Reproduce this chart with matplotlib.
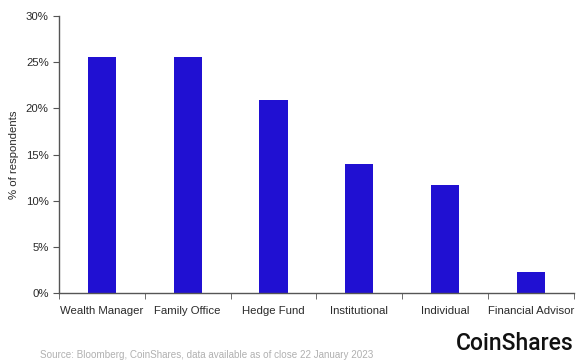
import numpy as np
import matplotlib.pyplot as plt

categories = ['Wealth Manager', 'Family Office', 'Hedge Fund',
              'Institutional', 'Individual', 'Financial Advisor']
share = [25.6, 25.6, 20.9, 14.0, 11.7, 2.3]

plt.rcParams['font.family'] = ['Liberation Sans', 'DejaVu Sans']

fig = plt.figure(figsize=(5.79, 3.61), dpi=100)
ax = fig.add_axes([0.102, 0.188, 0.889, 0.768])

x = np.arange(len(categories))
ax.bar(x, share, width=0.33, color='#2010d2')

ax.set_xlim(-0.5, len(categories) - 0.5)
ax.set_ylim(0, 30)
ax.set_yticks(np.arange(0, 31, 5))
ax.set_yticklabels(['%d%%' % v for v in np.arange(0, 31, 5)])
ax.set_xticks(x)
ax.set_xticklabels(categories)
ax.set_xticks(np.arange(-0.5, len(categories)), minor=True)
ax.tick_params(axis='x', which='major', length=0, pad=9, labelsize=8.2, colors='#2a2a2a')
ax.tick_params(axis='x', which='minor', length=4, color='#555555')
ax.tick_params(axis='y', length=4, color='#555555', labelsize=8.2, labelcolor='#2a2a2a')

for side in ['top', 'right']:
    ax.spines[side].set_visible(False)
for side in ['left', 'bottom']:
    ax.spines[side].set_color('#555555')
    ax.spines[side].set_linewidth(1.0)

ax.set_ylabel('% of respondents', fontsize=8.2, color='#2a2a2a', labelpad=5)

fig.text(40 / 579, 1 - 355 / 361, 'Source: Bloomberg, CoinShares, data available as of close 22 January 2023',
         fontsize=7.1, color='#b0b0b0', va='center', ha='left')
fig.text(574 / 579, 1 - 344 / 361, 'CoinShares', fontsize=16.5, color='#111111',
         va='center', ha='right', family=['Roboto', 'Liberation Sans'], weight='medium')

fig.savefig('out.png', dpi=100)
